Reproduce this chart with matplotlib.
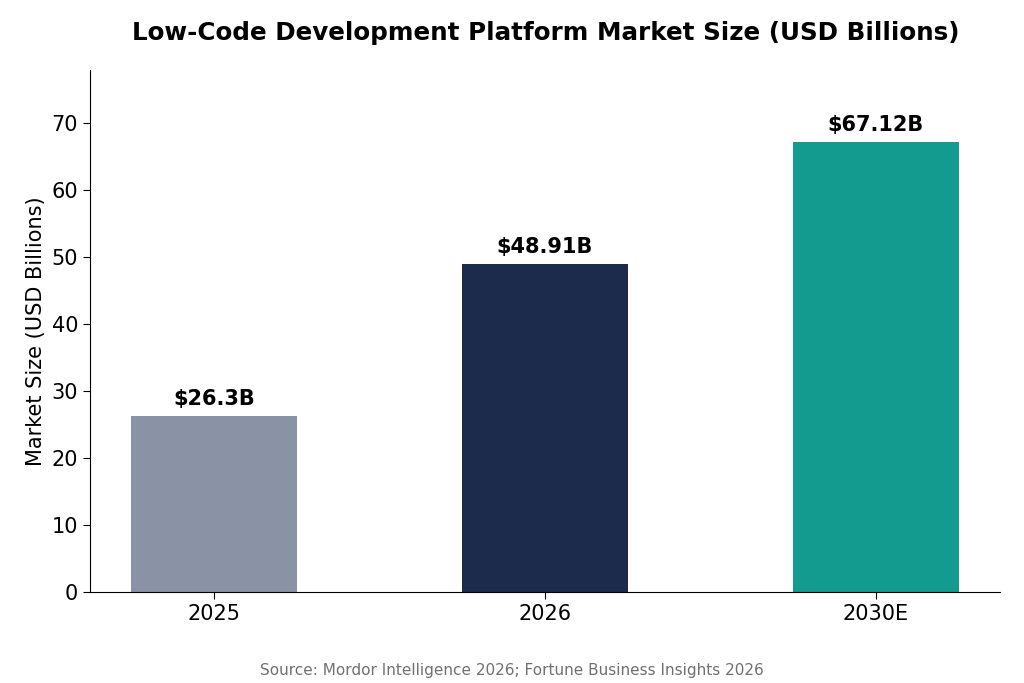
import matplotlib
matplotlib.use("Agg")
import matplotlib.pyplot as plt

plt.rcParams["font.family"] = ["DejaVu Sans"]

categories = ["2025", "2026", "2030E"]
values = [26.3, 48.91, 67.12]
labels = ["$26.3B", "$48.91B", "$67.12B"]
colors = ["#8A93A6", "#1C2B4B", "#129B8E"]

fig = plt.figure(figsize=(10.24, 6.83), dpi=100)
ax = fig.add_axes([90/1024, 1-592/683, 910/1024, 522/683])
x = list(range(len(categories)))
bars = ax.bar(x, values, width=0.5, color=colors)
ax.set_xticks(x)
ax.set_xticklabels(categories, fontsize=15)
ax.tick_params(axis="y", labelsize=15)
ax.tick_params(length=5)
ax.set_ylim(0, max(values) * 1.16)
ax.set_ylabel("Market Size (USD Billions)", fontsize=15)
for spine in ["top", "right"]:
    ax.spines[spine].set_visible(False)
for b, lab in zip(bars, labels):
    ax.annotate(lab, (b.get_x() + b.get_width() / 2, b.get_height()),
                xytext=(0, 5), textcoords="offset points",
                ha="center", va="bottom", fontsize=15, fontweight="bold")
fig.text(546/1024, 1-33/683, "Low-Code Development Platform Market Size (USD Billions)",
         ha="center", va="center", fontsize=17.7, fontweight="bold")
fig.text(512/1024, 1-671/683, "Source: Mordor Intelligence 2026; Fortune Business Insights 2026",
         ha="center", va="center", fontsize=11, color="#707070")
fig.savefig("out.png", dpi=100)
